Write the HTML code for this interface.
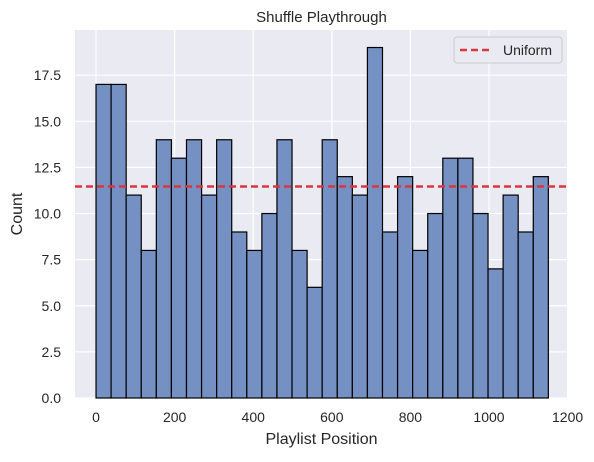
<!DOCTYPE html>
<html><head><meta charset="utf-8"><style>
body{margin:0;background:#fff;font-family:"Liberation Sans",sans-serif;}
svg text{font-family:"Liberation Sans",sans-serif;fill:#262626;}
</style></head><body>
<svg id="chart" width="594" height="457">
<rect x="75" y="30" width="493" height="368" fill="#eaeaf2"/>
<g id="grid"></g><g id="bars"></g><g id="ticks"></g>
<text x="321.5" y="22" text-anchor="middle" font-size="15">Shuffle Playthrough</text>
<text x="321.5" y="444" text-anchor="middle" font-size="16">Playlist Position</text>
<text x="22" y="214" text-anchor="middle" font-size="16" transform="rotate(-90 22 214)">Count</text>
<g>
<rect x="454" y="37" width="108" height="26" rx="3" fill="#eaeaf2" stroke="#cccccc"/>
<line x1="460" y1="50" x2="490" y2="50" stroke="#d9363e" stroke-width="2.5" stroke-dasharray="7,4"/>
<text x="503" y="55" font-size="14">Uniform</text>
</g>
</svg>
<script>
const counts=[17,17,11,8,14,13,14,11,14,9,8,10,14,8,6,14,12,11,19,9,12,8,10,13,13,10,7,11,9,12];
const dataMin=0, dataMax=1151;
const xTicks=[0,200,400,600,800,1000,1200];
const yTicks=[0,2.5,5,7.5,10,12.5,15,17.5];
const L=75,R=568,T=30,B=398;
const xMin=-53.5,xMax=1201,yMax=19.95;
const X=v=>L+(v-xMin)/(xMax-xMin)*(R-L);
const Y=v=>B-v/yMax*(B-T);
const NS="http://www.w3.org/2000/svg";
const mk=(p,t,a)=>{const e=document.createElementNS(NS,t);for(const k in a)e.setAttribute(k,a[k]);p.appendChild(e);return e;};
const grid=document.getElementById('grid'),bars=document.getElementById('bars'),ticks=document.getElementById('ticks'),svg=document.getElementById('chart');
xTicks.forEach(v=>{
 const g=mk(grid,'line',{x1:X(v),x2:X(v),y1:T,y2:B,stroke:'#fff','stroke-width':1.2});
 
 
 const t=mk(ticks,'text',{x:X(v),y:B+24,'text-anchor':'middle','font-size':14});
 t.textContent=v;
 
 
});
yTicks.forEach(v=>{
 const g=mk(grid,'line',{x1:L,x2:R,y1:Y(v),y2:Y(v),stroke:'#fff','stroke-width':1.2});
 
 
 const t=mk(ticks,'text',{x:L-14,y:Y(v)+5,'text-anchor':'end','font-size':14});
 t.textContent=v.toFixed(1);
 
 
});
const bw=(dataMax-dataMin)/counts.length;
counts.forEach((c,i)=>{
 const x0=X(dataMin+i*bw),x1=X(dataMin+(i+1)*bw);
 const r=mk(bars,'rect',{x:x0,y:Y(c),width:x1-x0,height:Y(0)-Y(c),fill:'#7590c3',stroke:'#000','stroke-width':1.2});
 
 
});
const mean=counts.reduce((a,b)=>a+b,0)/counts.length;
const ln=mk(svg,'line',{x1:L,x2:R,y1:Y(mean),y2:Y(mean),stroke:'#d9363e','stroke-width':2.5,'stroke-dasharray':'7,4'});


</script>
</body></html>
